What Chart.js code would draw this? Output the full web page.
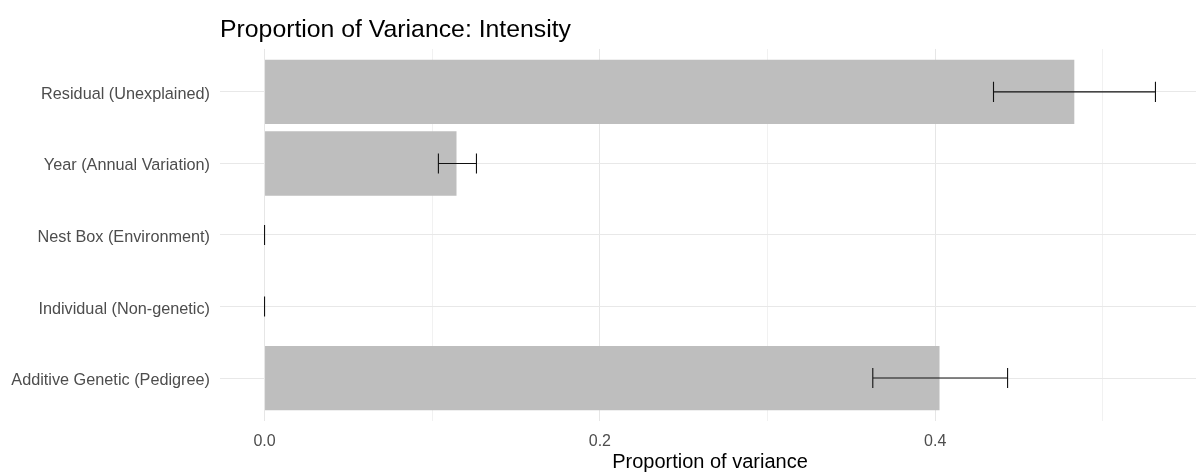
<!DOCTYPE html>
<html>
<head>
<meta charset="utf-8">
<script src="https://cdn.jsdelivr.net/npm/chart.js@4.4.1/dist/chart.umd.min.js"></script>
<style>
  html, body { margin: 0; padding: 0; background: #ffffff; overflow: hidden; }
  #wrap { position: relative; width: 1200px; height: 472px; }
</style>
</head>
<body>
<div id="wrap"><canvas id="c"></canvas></div>
<script>
// ---- data ----
const categories = [
  'Residual (Unexplained)',
  'Year (Annual Variation)',
  'Nest Box (Environment)',
  'Individual (Non\u2010genetic)',
  'Additive Genetic (Pedigree)'
];
const proportions = [0.483, 0.1145, 0, 0, 0.4026];
const lowerCI     = [0.4348, 0.1037, 0, 0, 0.3628];
const upperCI     = [0.5314, 0.1264, 0, 0, 0.4432];
const xMajorTicks = [0, 0.2, 0.4];
const xMinorTicks = [0.1, 0.3, 0.5];
const chartTitle = 'Proportion of Variance: Intensity';
const xAxisTitle = 'Proportion of variance';

// ---- derived axis limits (ggplot-like 5% expansion) ----
const dataMax = Math.max(...upperCI, ...proportions);
const expandX = 0.05 * dataMax;
const xTickValues = [...xMajorTicks, ...xMinorTicks].sort((a, b) => a - b);
const isMajor = v => xMajorTicks.some(t => Math.abs(t - v) < 1e-9);

Chart.defaults.font.family = '"Liberation Sans", Arial, sans-serif';

const errorBarPlugin = {
  id: 'errorBars',
  afterDatasetsDraw(chart) {
    const xs = chart.scales.x, ys = chart.scales.y;
    const ctx = chart.ctx;
    ctx.save();
    ctx.strokeStyle = '#111111';
    ctx.lineWidth = 1.1;
    for (let i = 0; i < categories.length; i++) {
      const y = ys.getPixelForValue(i);
      const yTop = ys.getPixelForValue(i - 0.14);
      const yBot = ys.getPixelForValue(i + 0.14);
      const x1 = xs.getPixelForValue(lowerCI[i]);
      const x2 = xs.getPixelForValue(upperCI[i]);
      ctx.beginPath();
      ctx.moveTo(x1, y); ctx.lineTo(x2, y);
      ctx.moveTo(x1, yTop); ctx.lineTo(x1, yBot);
      ctx.moveTo(x2, yTop); ctx.lineTo(x2, yBot);
      ctx.stroke();
    }
    ctx.restore();
  }
};

new Chart(document.getElementById('c'), {
  type: 'bar',
  data: {
    datasets: [{
      data: proportions.map((v, i) => ({ x: v, y: i })),
      backgroundColor: '#bebebe',
      borderWidth: 0,
      barPercentage: 0.9,
      categoryPercentage: 1.0
    }]
  },
  options: {
    indexAxis: 'y',
    responsive: true,
    maintainAspectRatio: false,
    animation: false,
    layout: { padding: { top: 0, right: 0, bottom: 0, left: 0 } },
    plugins: {
      legend: { display: false },
      tooltip: { enabled: false },
      title: {
        display: true,
        text: chartTitle,
        align: 'start',
        fullSize: false,
        color: '#000000',
        font: { size: 24.8, weight: 'normal', lineHeight: 1.2 },
        padding: { top: 15, bottom: 4.2 }
      }
    },
    scales: {
      x: {
        type: 'linear',
        position: 'bottom',
        offset: false,
        min: -expandX,
        max: dataMax + expandX,
        afterBuildTicks: s => { s.ticks = xTickValues.map(v => ({ value: v })); },
        afterFit: s => { s.height = 51; },
        border: { display: false },
        grid: {
          offset: false,
          drawTicks: false,
          color: ctx => (ctx.tick && isMajor(ctx.tick.value)) ? '#e6e6e6' : '#f1f1f1',
          lineWidth: 1
        },
        ticks: {
          autoSkip: false,
          maxRotation: 0,
          padding: 11,
          color: '#4d4d4d',
          font: { size: 16 },
          callback: v => isMajor(v) ? Number(v).toFixed(1) : ''
        },
        title: {
          display: true,
          text: xAxisTitle,
          color: '#000000',
          font: { size: 20 },
          padding: { top: 0, bottom: -2 }
        }
      },
      y: {
        type: 'linear',
        position: 'left',
        reverse: true,
        offset: false,
        min: -0.6,
        max: categories.length - 1 + 0.6,
        afterBuildTicks: s => { s.ticks = categories.map((c, i) => ({ value: i })); },
        afterFit: s => { s.width = 220; },
        border: { display: false },
        grid: { offset: false, drawTicks: false, color: '#e8e8e8', lineWidth: 1 },
        ticks: {
          autoSkip: false,
          padding: 10,
          labelOffset: 2.5,
          color: '#4d4d4d',
          font: { size: 16.25 },
          callback: v => categories[v]
        }
      }
    }
  },
  plugins: [errorBarPlugin]
});
</script>
</body>
</html>
